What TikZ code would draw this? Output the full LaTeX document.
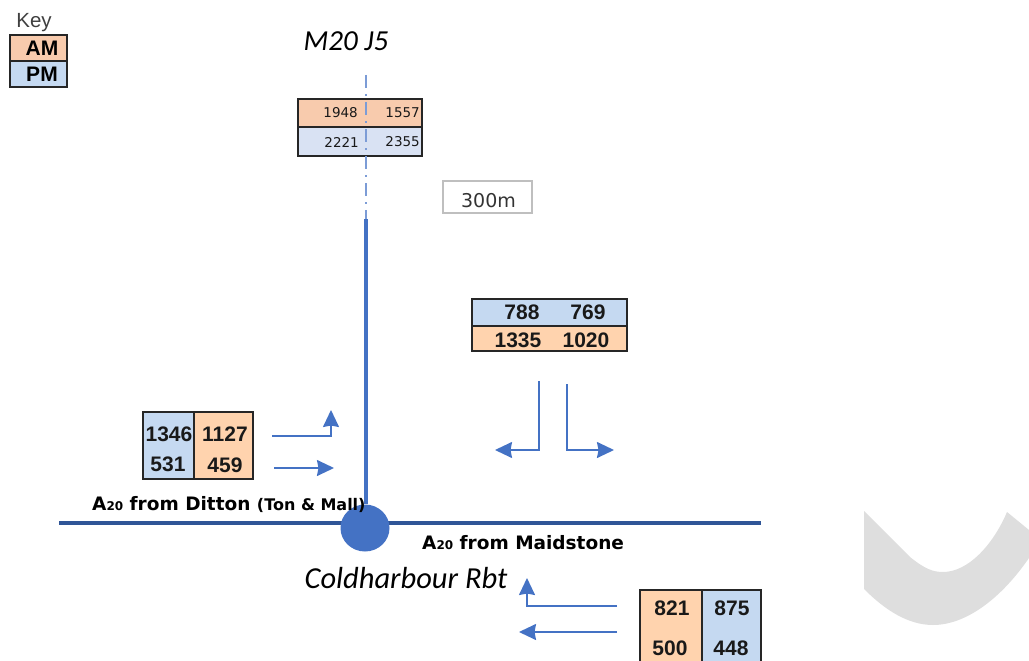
\documentclass[tikz,border=0pt]{standalone}
\usepackage{fontspec}
\usepackage{xcolor}
\setmainfont{Liberation Sans}
\newfontfamily\calfont{Carlito}
\newfontfamily\labfont{DejaVu Sans}
\newfontfamily\smallfont{DejaVu Sans}
\usetikzlibrary{shapes.geometric,arrows.meta,positioning}
\definecolor{roadblue}{HTML}{4472C4}
\definecolor{roaddark}{HTML}{2F5597}
\definecolor{amfill}{HTML}{F8CBAD}
\definecolor{amfilltwo}{HTML}{FFD3AE}
\definecolor{pmfill}{HTML}{C5D9F1}
\definecolor{pmpale}{HTML}{D9E2F3}
\definecolor{swoosh}{HTML}{DEDEDE}

\begin{document}
\begin{tikzpicture}[
  x=1pt, y=-1pt,
  cell/.style={rectangle, draw=black!85, line width=1.4pt, inner sep=0pt, minimum width=#1},
  amcell/.style={cell=#1, fill=amfilltwo},
  pmcell/.style={cell=#1, fill=pmfill},
  val/.style={inner sep=0pt, font=\fontsize{21}{21}\selectfont\bfseries, text=black!90},
  tinyval/.style={inner sep=0pt, font=\smallfont\fontsize{13.5}{14}\selectfont, text=black!90},
  roadlabel/.style={inner sep=0pt, anchor=west, font=\labfont\fontsize{18.5}{19}\selectfont\bfseries},
  place/.style={inner sep=0pt, font=\calfont\fontsize{29}{29}\selectfont\itshape},
  arr/.style={-{Stealth[length=17pt, width=16pt, inset=1.5pt]}, line width=1.6pt, roadblue},
  road/.style={line width=4pt, roadblue}
]
\useasboundingbox (0,0) rectangle (1029,661);
\clip (0,0) rectangle (1029,661);

% Grey shape (right)
\fill[swoosh] (864,511) -- (910,557) .. controls (925,569) and (933,572) .. (943,572)
  .. controls (968,572) and (993,545) .. (1007,512) -- (1029,530) -- (1029,558)
  .. controls (1000,600) and (965,625) .. (933,625) .. controls (908,625) and (885,610) .. (864,589) -- cycle;

% Key
\node[inner sep=0pt, font=\fontsize{20.5}{21}\selectfont, text=black!75] (keylabel) at (34,23) {Key};
\node[cell=57pt, fill=amfill, minimum height=26pt, font=\fontsize{21}{21}\selectfont\bfseries] (keyam) at (38.5,48) {\hspace{7pt}AM};
\node[cell=57pt, fill=pmfill, minimum height=26pt, font=\fontsize{21}{21}\selectfont\bfseries] (keypm) at (38.5,74) {\hspace{7pt}PM};

% M20 J5 counts (top)
\node[cell=124pt, fill=amfill, minimum height=28pt] (topam) at (360,113) {};
\node[cell=124pt, fill=pmpale, minimum height=29pt] (toppm) at (360,141.5) {};
\node[tinyval, anchor=east] (v1948) at (358,113) {1948};
\node[tinyval, anchor=east] (v1557) at (420,113) {1557};
\node[tinyval, anchor=east] (v2221) at (359,142) {2221};
\node[tinyval, anchor=east] (v2355) at (420,142) {2355};

% Roads
\coordinate (jfive) at (366,75);
\coordinate (split) at (366,219);
\coordinate (roadw) at (59,523);
\coordinate (roade) at (761,523);
\draw[line width=3.5pt, roaddark] (roadw) -- (roade);
\node[ellipse, fill=roadblue, minimum width=49pt, minimum height=47pt, inner sep=0pt] (rbt) at (365,528) {};
\draw[roadblue!70, line width=2.5pt, dash pattern=on 13pt off 6pt on 2pt off 6pt] (jfive) -- (split);
\draw[road] (split) -- (split |- rbt.north);

% Labels
\node[place] (mtwenty) at (346,41) {M20 J5};
\node[place, font=\calfont\fontsize{30.5}{30}\selectfont\itshape] (coldh) at (406,578) {Coldharbour Rbt};
\node[roadlabel] (ditton) at (92,505) {A{\fontsize{12}{12}\selectfont 20} from Ditton {\fontsize{16}{16}\selectfont(Ton \& Mall)}};
\node[roadlabel] (maid) at (422,543) {A{\fontsize{12}{12}\selectfont 20} from Maidstone};

% Scale box
\node[rectangle, draw=black!25, line width=1.2pt, minimum width=89pt, minimum height=32pt, inner sep=0pt] (scalebox) at (487.5,197) {};
\node[inner sep=0pt, font=\smallfont\fontsize{19}{19}\selectfont, text=black!80] (scaletxt) at (488.5,201) {300m};

% Side road counts (right)
\node[pmcell=155pt, minimum height=27pt] (sidepm) at (549.5,312.5) {};
\node[amcell=155pt, minimum height=25pt] (sideam) at (549.5,338.5) {};
\node[val] (v788) at (522,312) {788};
\node[val] (v769) at (588,312) {769};
\node[val] (v1335) at (518,340) {1335};
\node[val] (v1020) at (586,340) {1020};

% Ditton counts (left)
\node[pmcell=51pt, minimum height=67pt] (leftpm) at (168.5,445.5) {};
\node[amcell=59pt, minimum height=67pt] (leftam) at (223.5,445.5) {};
\node[val] (v1346) at (169,434) {1346};
\node[val] (v1127) at (225,434) {1127};
\node[val] (v531) at (168,464) {531};
\node[val] (v459) at (225,465) {459};

% Maidstone counts (bottom)
\node[amcell=62pt, minimum height=80pt] (botam) at (671,630) {};
\node[pmcell=59pt, minimum height=80pt] (botpm) at (731.5,630) {};
\node[val] (v821) at (672,608) {821};
\node[val] (v875) at (732,608) {875};
\node[val] (v500) at (670,648) {500};
\node[val] (v448) at (731,648) {448};

% Turning arrows
\coordinate (dita) at (272,436);
\coordinate (ditatip) at (331,410);
\coordinate (ditb) at (274,468);
\coordinate (ditbtip) at (334,468);
\coordinate (sidea) at (539,381);
\coordinate (sideatip) at (495,450);
\coordinate (sideb) at (567,384);
\coordinate (sidebtip) at (614,450);
\coordinate (maida) at (617,606);
\coordinate (maidatip) at (527,578);
\coordinate (maidb) at (617,632);
\coordinate (maidbtip) at (519,632);
\draw[arr] (dita) -| (ditatip);
\draw[arr] (ditb) -- (ditbtip);
\draw[arr] (sidea) |- (sideatip);
\draw[arr] (sideb) |- (sidebtip);
\draw[arr] (maida) -| (maidatip);
\draw[arr] (maidb) -- (maidbtip);

\end{tikzpicture}
\end{document}
